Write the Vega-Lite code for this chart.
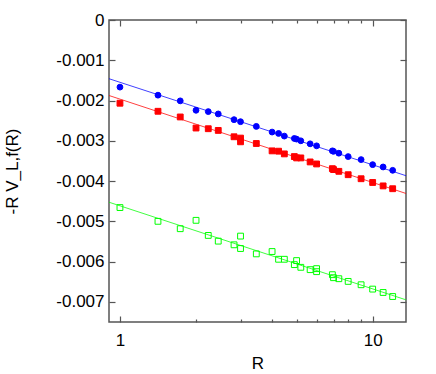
{
  "$schema": "https://vega.github.io/schema/vega-lite/v6.json",
  "width": 297,
  "height": 302,
  "autosize": {"type": "none"},
  "padding": {"left": 109, "top": 20, "right": 30, "bottom": 52},
  "background": "white",
  "config": {
    "view": {"stroke": "#555555", "strokeWidth": 1.5},
    "font": "Liberation Sans",
    "axis": {"labelFont": "Liberation Sans", "titleFont": "Liberation Sans", "labelColor": "black", "titleColor": "black", "titleFontWeight": "normal", "domain": false, "grid": false, "tickColor": "#555555", "tickWidth": 1.2}
  },
  "datasets": {
    "pts": [
      {"series": "KS quarks", "R": 1.0, "V": -0.001667},
      {"series": "KS quarks", "R": 1.414, "V": -0.001867},
      {"series": "KS quarks", "R": 1.732, "V": -0.002008},
      {"series": "KS quarks", "R": 2.0, "V": -0.002242},
      {"series": "KS quarks", "R": 2.236, "V": -0.002275},
      {"series": "KS quarks", "R": 2.449, "V": -0.002333},
      {"series": "KS quarks", "R": 2.828, "V": -0.002475},
      {"series": "KS quarks", "R": 3.0, "V": -0.002525},
      {"series": "KS quarks", "R": 3.464, "V": -0.002642},
      {"series": "KS quarks", "R": 4.0, "V": -0.002783},
      {"series": "KS quarks", "R": 4.243, "V": -0.002817},
      {"series": "KS quarks", "R": 4.472, "V": -0.002883},
      {"series": "KS quarks", "R": 4.899, "V": -0.002942},
      {"series": "KS quarks", "R": 5.0, "V": -0.002958},
      {"series": "KS quarks", "R": 5.196, "V": -0.003},
      {"series": "KS quarks", "R": 5.657, "V": -0.003075},
      {"series": "KS quarks", "R": 6.0, "V": -0.003125},
      {"series": "KS quarks", "R": 6.928, "V": -0.003250},
      {"series": "KS quarks", "R": 7.0, "V": -0.003262},
      {"series": "KS quarks", "R": 7.348, "V": -0.003308},
      {"series": "KS quarks", "R": 8.0, "V": -0.003392},
      {"series": "KS quarks", "R": 9.0, "V": -0.003467},
      {"series": "KS quarks", "R": 10.0, "V": -0.003592},
      {"series": "KS quarks", "R": 11.0, "V": -0.00365},
      {"series": "KS quarks", "R": 12.0, "V": -0.003733},
      {"series": "Wilson quarks", "R": 1.0, "V": -0.002067},
      {"series": "Wilson quarks", "R": 1.414, "V": -0.002267},
      {"series": "Wilson quarks", "R": 1.732, "V": -0.002408},
      {"series": "Wilson quarks", "R": 2.0, "V": -0.002683},
      {"series": "Wilson quarks", "R": 2.236, "V": -0.0027},
      {"series": "Wilson quarks", "R": 2.449, "V": -0.002742},
      {"series": "Wilson quarks", "R": 2.828, "V": -0.0029},
      {"series": "Wilson quarks", "R": 3.0, "V": -0.002933},
      {"series": "Wilson quarks", "R": 3.0, "V": -0.003025},
      {"series": "Wilson quarks", "R": 3.464, "V": -0.003067},
      {"series": "Wilson quarks", "R": 4.0, "V": -0.00325},
      {"series": "Wilson quarks", "R": 4.243, "V": -0.003258},
      {"series": "Wilson quarks", "R": 4.472, "V": -0.003325},
      {"series": "Wilson quarks", "R": 4.899, "V": -0.003392},
      {"series": "Wilson quarks", "R": 5.0, "V": -0.003425},
      {"series": "Wilson quarks", "R": 5.196, "V": -0.003425},
      {"series": "Wilson quarks", "R": 5.657, "V": -0.003525},
      {"series": "Wilson quarks", "R": 6.0, "V": -0.003575},
      {"series": "Wilson quarks", "R": 6.928, "V": -0.003692},
      {"series": "Wilson quarks", "R": 7.0, "V": -0.003715},
      {"series": "Wilson quarks", "R": 7.348, "V": -0.003758},
      {"series": "Wilson quarks", "R": 8.0, "V": -0.003842},
      {"series": "Wilson quarks", "R": 9.0, "V": -0.003942},
      {"series": "Wilson quarks", "R": 10.0, "V": -0.004035},
      {"series": "Wilson quarks", "R": 11.0, "V": -0.004120},
      {"series": "Wilson quarks", "R": 12.0, "V": -0.004190},
      {"series": "SW quarks", "R": 1.0, "V": -0.004658},
      {"series": "SW quarks", "R": 1.414, "V": -0.005},
      {"series": "SW quarks", "R": 1.732, "V": -0.005183},
      {"series": "SW quarks", "R": 2.0, "V": -0.004975},
      {"series": "SW quarks", "R": 2.236, "V": -0.00535},
      {"series": "SW quarks", "R": 2.449, "V": -0.005492},
      {"series": "SW quarks", "R": 2.828, "V": -0.005583},
      {"series": "SW quarks", "R": 3.0, "V": -0.005367},
      {"series": "SW quarks", "R": 3.0, "V": -0.005675},
      {"series": "SW quarks", "R": 3.464, "V": -0.005808},
      {"series": "SW quarks", "R": 4.0, "V": -0.00575},
      {"series": "SW quarks", "R": 4.243, "V": -0.005942},
      {"series": "SW quarks", "R": 4.472, "V": -0.005942},
      {"series": "SW quarks", "R": 4.899, "V": -0.006075},
      {"series": "SW quarks", "R": 5.0, "V": -0.005975},
      {"series": "SW quarks", "R": 5.196, "V": -0.006142},
      {"series": "SW quarks", "R": 5.657, "V": -0.0062},
      {"series": "SW quarks", "R": 6.0, "V": -0.006175},
      {"series": "SW quarks", "R": 6.0, "V": -0.00625},
      {"series": "SW quarks", "R": 6.928, "V": -0.006325},
      {"series": "SW quarks", "R": 7.0, "V": -0.0064},
      {"series": "SW quarks", "R": 7.348, "V": -0.006425},
      {"series": "SW quarks", "R": 8.0, "V": -0.006492},
      {"series": "SW quarks", "R": 9.0, "V": -0.006575},
      {"series": "SW quarks", "R": 10.0, "V": -0.006683},
      {"series": "SW quarks", "R": 11.0, "V": -0.006767},
      {"series": "SW quarks", "R": 12.0, "V": -0.006867}
    ],
    "fits": [
      {"series": "KS quarks", "R": 0.905, "V": -0.001458},
      {"series": "KS quarks", "R": 13.55, "V": -0.003867},
      {"series": "Wilson quarks", "R": 0.905, "V": -0.001875},
      {"series": "Wilson quarks", "R": 13.55, "V": -0.004308},
      {"series": "SW quarks", "R": 0.905, "V": -0.004525},
      {"series": "SW quarks", "R": 13.55, "V": -0.00695}
    ]
  },
  "layer": [
    {
      "data": {"name": "fits"},
      "mark": {"type": "line", "strokeWidth": 1, "opacity": 0.75, "clip": true},
      "encoding": {
        "x": {"field": "R", "type": "quantitative",
          "scale": {"type": "log", "domain": [0.905, 13.55], "nice": false},
          "axis": {"orient": "bottom", "title": "R", "titleFontSize": 17, "titlePadding": 7,
            "values": [1, 2, 3, 4, 5, 6, 7, 8, 9, 10],
            "labelExpr": "(datum.value == 1 || datum.value == 10) ? datum.value : ''",
            "labelFontSize": 17, "labelPadding": 16,
            "tickSize": {"condition": {"test": "datum.value == 1 || datum.value == 10", "value": -6}, "value": -3}}},
        "y": {"field": "V", "type": "quantitative",
          "scale": {"domain": [-0.0075, 0], "nice": false, "zero": false},
          "axis": {"orient": "left", "title": "-R V_L,f(R)", "titleFontSize": 17, "titlePadding": 34,
            "values": [0, -0.001, -0.002, -0.003, -0.004, -0.005, -0.006, -0.007],
            "labelExpr": "datum.value == 0 ? '0' : '-' + format(-datum.value, '.3f')",
            "labelFontSize": 17, "labelPadding": 11, "tickSize": -6}},
        "color": {"field": "series", "type": "nominal", "legend": null,
          "scale": {"domain": ["KS quarks", "Wilson quarks", "SW quarks"], "range": ["#0000ff", "#ff0000", "#00ff00"]}}
      }
    },
    {
      "data": {"name": "pts"},
      "mark": {"type": "point", "size": 34, "strokeWidth": 1, "opacity": 1},
      "encoding": {
        "x": {"field": "R", "type": "quantitative",
          "axis": {"orient": "top", "title": null, "labels": false,
            "values": [1, 2, 3, 4, 5, 6, 7, 8, 9, 10],
            "tickSize": {"condition": {"test": "datum.value == 1 || datum.value == 10", "value": -6}, "value": -3}}},
        "y": {"field": "V", "type": "quantitative",
          "axis": {"orient": "right", "title": null, "labels": false,
            "values": [0, -0.001, -0.002, -0.003, -0.004, -0.005, -0.006, -0.007], "tickSize": -6}},
        "fill": {"field": "series", "type": "nominal", "legend": null,
          "scale": {"domain": ["KS quarks", "Wilson quarks", "SW quarks"], "range": ["#0000ff", "#ff0000", "transparent"]}},
        "stroke": {"field": "series", "type": "nominal", "legend": null,
          "scale": {"domain": ["KS quarks", "Wilson quarks", "SW quarks"], "range": ["#0000ff", "#ff0000", "#00ff00"]}},
        "shape": {"field": "series", "type": "nominal",
          "scale": {"domain": ["KS quarks", "Wilson quarks", "SW quarks"], "range": ["circle", "square", "square"]},
          "legend": {"title": null, "orient": "top-right", "offset": 30,
            "labelFontSize": 17, "labelAlign": "right", "labelOffset": -37, "symbolSize": 22}}
      }
    }
  ],
  "resolve": {"axis": {"x": "independent", "y": "independent"}}
}
